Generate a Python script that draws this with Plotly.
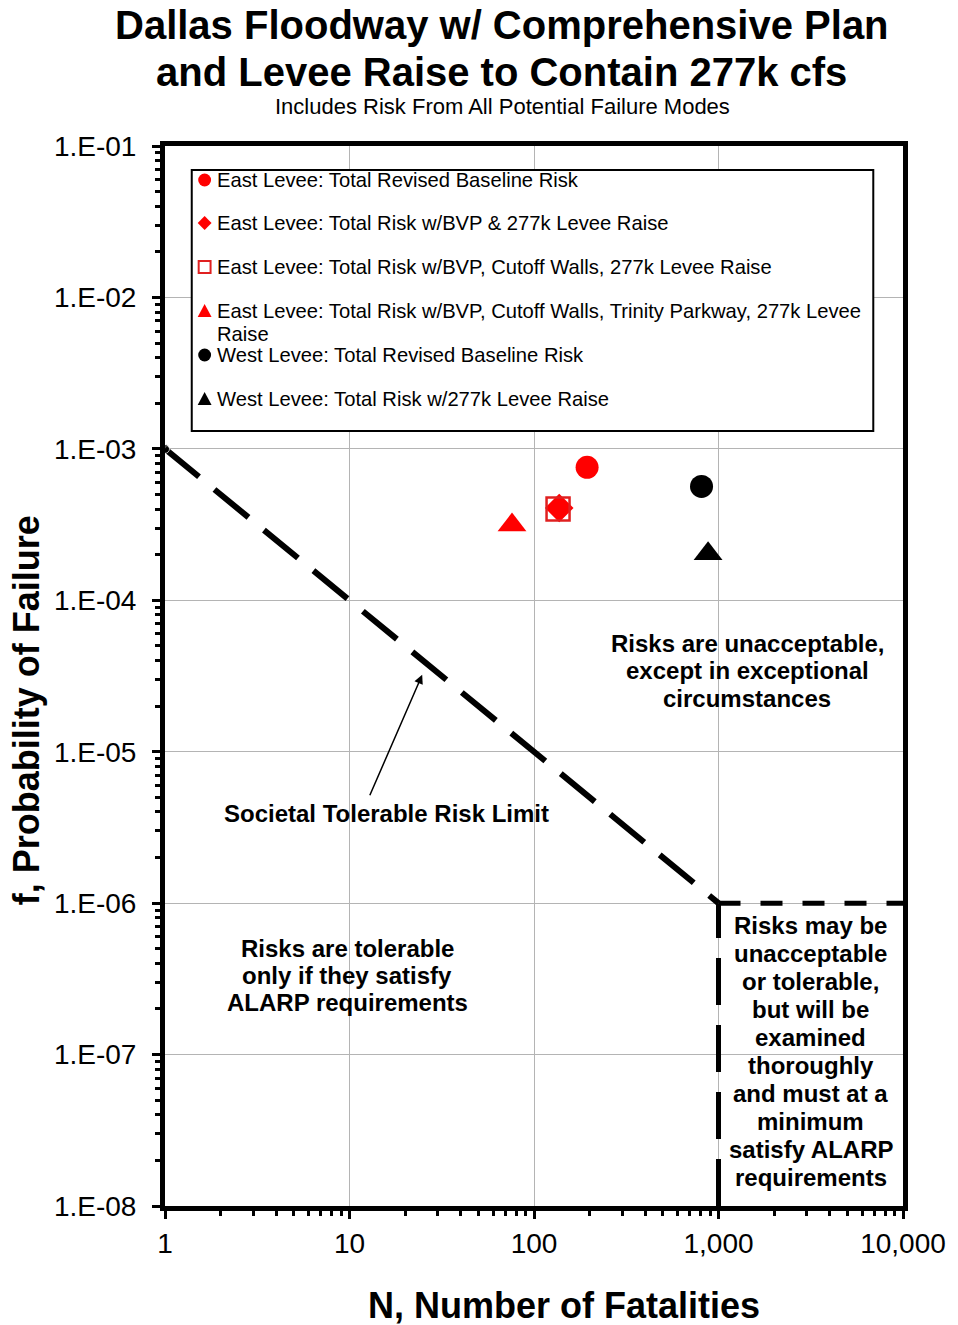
import plotly.graph_objects as go

# ---------------- data ----------------
series_names = [
    "East Levee: Total Revised Baseline Risk",
    "East Levee: Total Risk w/BVP & 277k Levee Raise",
    "East Levee: Total Risk w/BVP, Cutoff Walls, 277k Levee Raise",
    "East Levee: Total Risk w/BVP, Cutoff Walls, Trinity Parkway, 277k Levee<br>Raise",
    "West Levee: Total Revised Baseline Risk",
    "West Levee: Total Risk w/277k Levee Raise",
]
fatalities_N = [194, 137, 135, 76, 809, 878]
prob_failure_f = [7.55e-4, 4.07e-4, 4.01e-4, 3.14e-4, 5.65e-4, 2.03e-4]

# Societal tolerable risk limit and ALARP region boundary
limit_N = [1, 1000]
limit_f = [1e-3, 1e-6]
alarp_top_N = [1000, 10000]
alarp_top_f = [1e-6, 1e-6]
alarp_left_N = [1000, 1000]
alarp_left_f = [1e-8, 1e-6]

x_tickvals = [1, 10, 100, 1000, 10000]
x_ticktext = ["1", "10", "100", "1,000", "10,000"]
y_tickvals = [1e-1, 1e-2, 1e-3, 1e-4, 1e-5, 1e-6, 1e-7, 1e-8]
y_ticktext = ["1.E-01", "1.E-02", "1.E-03", "1.E-04", "1.E-05", "1.E-06", "1.E-07", "1.E-08"]

# ---------------- styles ----------------
FONT = "Liberation Sans, Arial, sans-serif"
RED = "#ff0000"
SQ_RED = "#e02020"
styles = [
    dict(symbol="circle", size=23, color=RED, line=dict(width=0)),
    dict(symbol="diamond", size=22, color=RED, line=dict(width=0)),
    dict(symbol="square-open", size=23, color=SQ_RED, line=dict(width=2.5, color=SQ_RED)),
    dict(symbol="triangle-up", size=25, color=RED, line=dict(width=0)),
    dict(symbol="circle", size=23, color="#000000", line=dict(width=0)),
    dict(symbol="triangle-up", size=25, color="#000000", line=dict(width=0)),
]

fig = go.Figure()

# boundary lines
fig.add_trace(go.Scatter(x=limit_N, y=limit_f, mode="lines+markers", showlegend=False,
                         marker=dict(size=[9, 0], color="black"),
                         line=dict(color="black", width=6, dash="44px,20px"), hoverinfo="skip"))
fig.add_trace(go.Scatter(x=alarp_top_N, y=alarp_top_f, mode="lines", showlegend=False,
                         line=dict(color="black", width=5, dash="22px,20px"), hoverinfo="skip"))
fig.add_trace(go.Scatter(x=alarp_left_N, y=alarp_left_f, mode="lines", showlegend=False,
                         line=dict(color="black", width=5, dash="47px,20px"), hoverinfo="skip"))

for i, name in enumerate(series_names):
    fig.add_trace(go.Scatter(
        x=[fatalities_N[i]], y=[prob_failure_f[i]], mode="markers", name=name,
        marker=styles[i], showlegend=False,
    ))

minor_y = [m * 10 ** e for e in range(-8, -1) for m in range(2, 10)]
minor_x = [m * 10 ** e for e in range(0, 4) for m in range(2, 10)]

axis_common = dict(
    type="log", showline=True, linewidth=5, linecolor="black", mirror=True,
    ticks="outside", ticklen=8, tickwidth=3, tickcolor="black",
    showgrid=True, gridcolor="#b4b4b4", gridwidth=1, zeroline=False,
    tickfont=dict(family=FONT, size=28, color="black"),
)

fig.update_xaxes(**axis_common, range=[0, 4], tickmode="array",
                 tickvals=x_tickvals, ticktext=x_ticktext,
                 minor=dict(tickmode="array", tickvals=minor_x, ticks="outside",
                            ticklen=5, tickwidth=3, tickcolor="black", showgrid=False))
fig.update_yaxes(**axis_common, range=[-8, -1], tickmode="array",
                 tickvals=y_tickvals, ticktext=y_ticktext, ticklabelstandoff=10,
                 minor=dict(tickmode="array", tickvals=minor_y, ticks="outside",
                            ticklen=5, tickwidth=3, tickcolor="black", showgrid=False))

L, R, T, B = 165, 48, 146, 119
W, H = 958, 1325
PW, PH = W - L - R, H - T - B


def px(x):
    return (x - L) / PW


def py(y):
    return 1 - (y - T) / PH


annotations = []


def add_lines(lines, cx, y0, dy, size, bold=True, xanchor="center"):
    for k, t in enumerate(lines):
        annotations.append(dict(
            text=f"<b>{t}</b>" if bold else t, x=px(cx), y=py(y0 + k * dy),
            xref="paper", yref="paper", showarrow=False, xanchor=xanchor, yanchor="middle",
            font=dict(family=FONT, size=size, color="black"),
        ))


add_lines(["Dallas Floodway w/ Comprehensive Plan", "and Levee Raise to Contain 277k cfs"],
          505, 25, 47, 40)
add_lines(["Includes Risk From All Potential Failure Modes"], 506, 106, 0, 22, bold=False)
add_lines(["N, Number of Fatalities"], 568, 1305, 0, 36)
annotations.append(dict(
    text="<b>f, Probability of Failure</b>", x=px(25), y=py(710), xref="paper", yref="paper",
    showarrow=False, xanchor="center", yanchor="middle", textangle=-90,
    font=dict(family=FONT, size=36, color="black"),
))
add_lines(["Risks are unacceptable,", "except in exceptional", "circumstances"], 753, 643, 27.5, 24)
add_lines(["Societal Tolerable Risk Limit"], 389, 813, 0, 24)
add_lines(["Risks are tolerable", "only if they satisfy", "ALARP requirements"], 349, 948, 27, 24)
add_lines(["Risks may be", "unacceptable", "or tolerable,", "but will be", "examined", "thoroughly",
           "and must at a", "minimum", "satisfy ALARP", "requirements"], 817, 925, 28.1, 24)

# arrow pointing at the tolerable risk limit line
annotations.append(dict(
    text="", xref="x", yref="y", x=1.394, y=-4.492, ax=-53, ay=122,
    showarrow=True, arrowhead=2, arrowsize=1.2, arrowwidth=1.5, arrowcolor="black", standoff=0,
))

# ---------------- legend (drawn box) ----------------
leg_y = [180, 223, 267, 311, 355, 399]
leg_text_lines = [n.split("<br>") for n in series_names]
shapes = [dict(type="rect", xref="paper", yref="paper", x0=px(192), x1=px(880), y0=py(431), y1=py(170),
               line=dict(color="black", width=2), fillcolor="white", layer="above")]
for i, lines in enumerate(leg_text_lines):
    add_lines(lines, 215, leg_y[i], 23, 20.2, bold=False, xanchor="left")
    cx, cy = 205, leg_y[i]
    st = styles[i]
    col = st["color"]
    if st["symbol"] == "circle":
        shapes.append(dict(type="circle", xref="paper", yref="paper",
                           x0=px(cx - 6.5), x1=px(cx + 6.5), y0=py(cy + 6.5), y1=py(cy - 6.5),
                           fillcolor=col, line=dict(width=0), layer="above"))
    elif st["symbol"] == "diamond":
        pts = [(cx, cy - 7), (cx + 7, cy), (cx, cy + 7), (cx - 7, cy)]
        path = "M" + " L".join(f"{px(a)},{py(b)}" for a, b in pts) + " Z"
        shapes.append(dict(type="path", xref="paper", yref="paper", path=path,
                           fillcolor=col, line=dict(width=0), layer="above"))
    elif st["symbol"] == "square-open":
        shapes.append(dict(type="rect", xref="paper", yref="paper",
                           x0=px(cx - 6), x1=px(cx + 6), y0=py(cy + 6), y1=py(cy - 6),
                           fillcolor="rgba(0,0,0,0)", line=dict(width=2, color=col), layer="above"))
    else:
        pts = [(cx, cy - 7), (cx + 7, cy + 6), (cx - 7, cy + 6)]
        path = "M" + " L".join(f"{px(a)},{py(b)}" for a, b in pts) + " Z"
        shapes.append(dict(type="path", xref="paper", yref="paper", path=path,
                           fillcolor=col, line=dict(width=0), layer="above"))

fig.update_layout(
    width=W, height=H,
    margin=dict(l=L, r=R, t=T, b=B),
    paper_bgcolor="white", plot_bgcolor="white",
    font=dict(family=FONT, color="black"),
    annotations=annotations,
    shapes=shapes,
    showlegend=False,
)

fig.write_html("out.html")
